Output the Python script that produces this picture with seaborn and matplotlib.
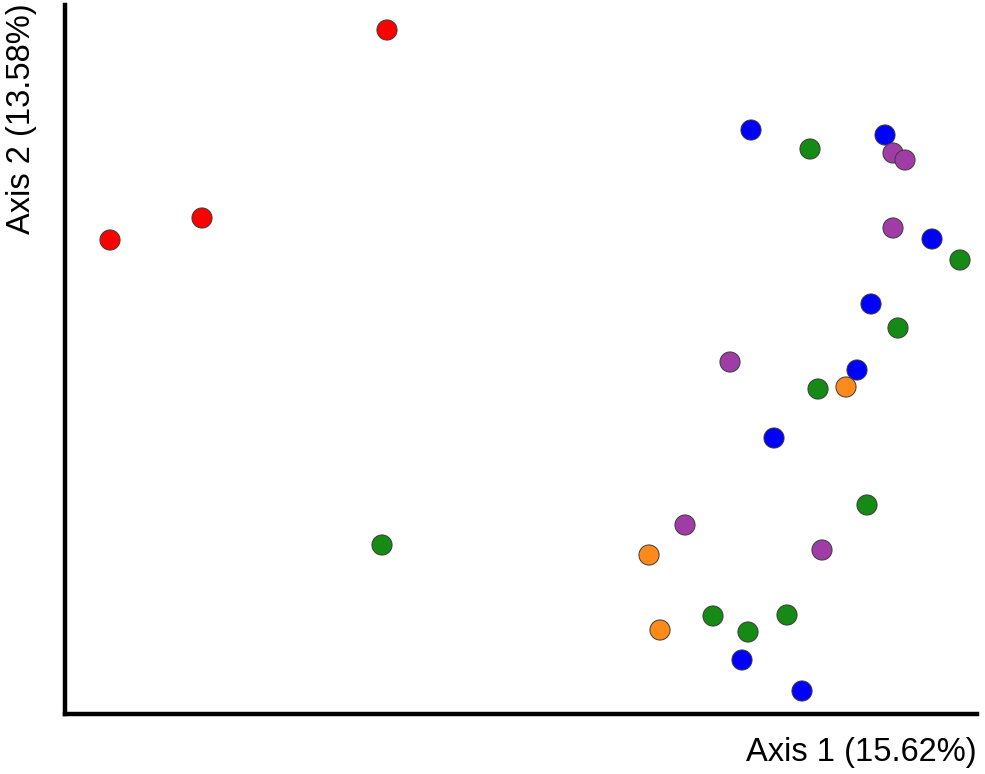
import pandas as pd
import seaborn as sns
import matplotlib.pyplot as plt

# Ordination coordinates (arbitrary units)
red_x = [387, 202, 110]
red_y = [744, 556, 534]
blue_x = [751, 885, 932, 871, 857, 774, 742, 802]
blue_y = [644, 639, 535, 470, 404, 336, 114, 83]
green_x = [810, 960, 898, 818, 867, 382, 713, 748, 787]
green_y = [625, 514, 446, 385, 269, 229, 158, 142, 159]
purple_x = [893, 905, 893, 730, 685, 822]
purple_y = [621, 614, 546, 412, 249, 224]
orange_x = [846, 649, 660]
orange_y = [387, 219, 144]

groups = ['red', 'blue', 'green', 'purple', 'orange']
colors = {'red': '#ff0000', 'blue': '#0000ff', 'green': '#158a15',
          'purple': '#a03ca6', 'orange': '#ff8a1c'}

xs = [red_x, blue_x, green_x, purple_x, orange_x]
ys = [red_y, blue_y, green_y, purple_y, orange_y]
df = pd.concat([pd.DataFrame({'Axis1': x, 'Axis2': y, 'Group': g})
                for g, x, y in zip(groups, xs, ys)], ignore_index=True)

sns.set_style("white")
plt.rcParams['font.family'] = ['Liberation Sans', 'DejaVu Sans']

fig = plt.figure(figsize=(9.85, 7.74), dpi=100)
ax = fig.add_axes([65 / 985, 60 / 774, 912 / 985, 709 / 774])

sns.scatterplot(data=df, x='Axis1', y='Axis2', hue='Group', palette=colors,
                s=210, edgecolor='#3a3a3a', linewidth=0.7, legend=False, ax=ax)

ax.set_xlim(65, 977)
ax.set_ylim(60, 769)
ax.set_xticks([])
ax.set_yticks([])
ax.set_xlabel('')
ax.set_ylabel('')
for side in ['top', 'right']:
    ax.spines[side].set_visible(False)
for side in ['left', 'bottom']:
    ax.spines[side].set_linewidth(3.2)
    ax.spines[side].set_color('black')

fig.text(977 / 985, 6 / 774, 'Axis 1 (15.62%)', ha='right', va='bottom',
         fontsize=23.5, color='black')
fig.text(6 / 985, 771 / 774, 'Axis 2 (13.58%)', ha='left', va='top', rotation=90,
         fontsize=23.5, color='black')

plt.savefig('out.png', dpi=100)
